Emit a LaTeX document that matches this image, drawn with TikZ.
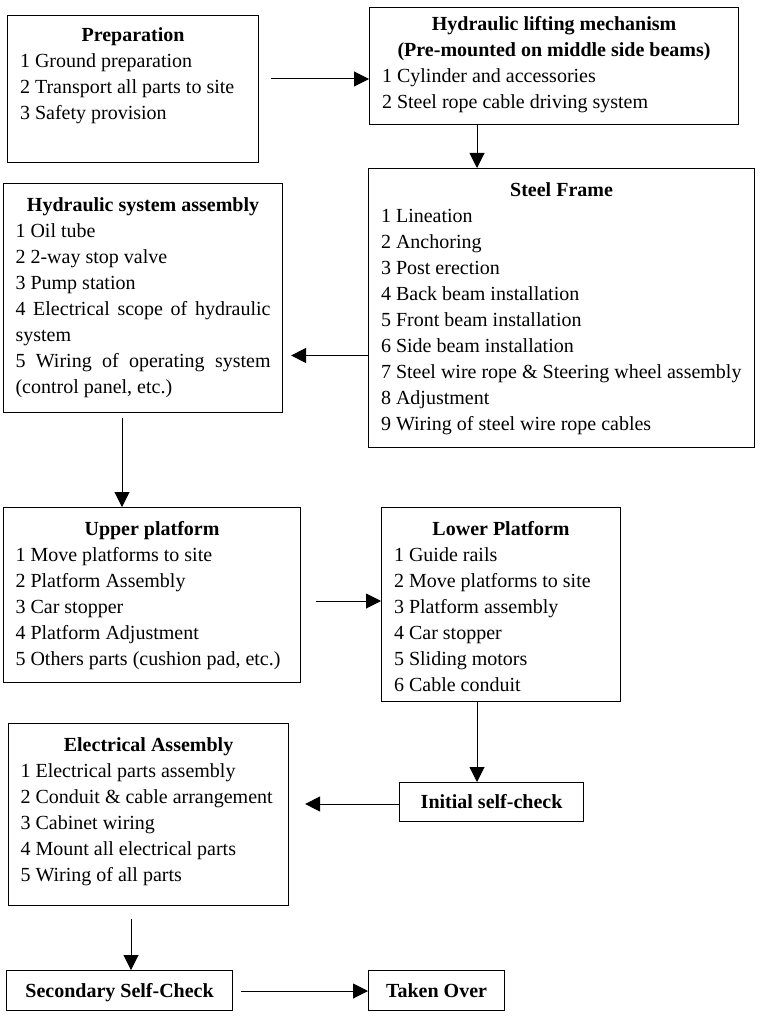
\documentclass[tikz,border=0pt]{standalone}
\usepackage{fontspec}
\setmainfont{Liberation Serif}
\usetikzlibrary{arrows.meta}
\tikzset{
  stepbox/.style={draw, line width=1.1pt, anchor=north west, inner ysep=0pt,
                  inner xsep=12.5pt, font=\fontsize{20}{26}\selectfont},
  checkbox/.style={draw, line width=1.1pt, anchor=north west, inner sep=0pt,
                   text height=13.5pt, text depth=0pt,
                   font=\fontsize{20}{26}\selectfont\bfseries},
  sig/.style={-{Triangle[length=15pt,width=15pt]}, line width=1pt},
}
\newcommand{\steptitle}[2]{\hbox to\linewidth{\hfil\bfseries\rule{0pt}{#1}#2\hfil}}
\newcommand{\stepitem}[1]{\hbox{#1}}
\newcommand{\stepjust}[1]{\hbox to\linewidth{#1}}

\begin{document}
\begin{tikzpicture}[x=1pt,y=-1pt]
  \useasboundingbox (0,0) rectangle (761,1016);
  % boxes, left to right and top to bottom
  \node[stepbox] (prep) at (7,15) {\parbox[c][147pt][t]{226pt}{%
    \steptitle{25.7pt}{Preparation}
    \stepitem{1 Ground preparation}
    \stepitem{2 Transport all parts to site}
    \stepitem{3 Safety provision}}};
  \node[stepbox] (lift) at (369,7) {\parbox[c][117pt][t]{344pt}{%
    \steptitle{23pt}{Hydraulic lifting mechanism}
    \steptitle{0pt}{(Pre-mounted on middle side beams)}
    \stepitem{1 Cylinder and accessories}
    \stepitem{2 Steel rope cable driving system}}};
  \node[stepbox] (frame) at (368,168) {\parbox[c][279pt][t]{361pt}{%
    \steptitle{27.5pt}{Steel Frame}
    \stepitem{1 Lineation}
    \stepitem{2 Anchoring}
    \stepitem{3 Post erection}
    \stepitem{4 Back beam installation}
    \stepitem{5 Front beam installation}
    \stepitem{6 Side beam installation}
    \stepitem{7 Steel wire rope \& Steering wheel assembly}
    \stepitem{8 Adjustment}
    \stepitem{9 Wiring of steel wire rope cables}}};
  \node[stepbox, inner xsep=12pt] (hydsys) at (3,183) {\parbox[c][229pt][t]{255pt}{%
    \steptitle{27.5pt}{Hydraulic system assembly}
    \stepitem{1 Oil tube}
    \stepitem{2 2-way stop valve}
    \stepitem{3 Pump station}
    \stepjust{4 Electrical scope of hydraulic}
    \stepitem{system}
    \stepjust{5 Wiring of operating system}
    \stepitem{(control panel, etc.)}}};
  \node[stepbox, inner xsep=12pt] (upper) at (3,507) {\parbox[c][175pt][t]{273pt}{%
    \steptitle{27.5pt}{Upper platform}
    \stepitem{1 Move platforms to site}
    \stepitem{2 Platform Assembly}
    \stepitem{3 Car stopper}
    \stepitem{4 Platform Adjustment}
    \stepitem{5 Others parts (cushion pad, etc.)}}};
  \node[stepbox] (lower) at (381,507) {\parbox[c][194pt][t]{214pt}{%
    \steptitle{27.5pt}{Lower Platform}
    \stepitem{1 Guide rails}
    \stepitem{2 Move platforms to site}
    \stepitem{3 Platform assembly}
    \stepitem{4 Car stopper}
    \stepitem{5 Sliding motors}
    \stepitem{6 Cable conduit}}};
  \node[stepbox, inner xsep=12pt] (elec) at (8,723) {\parbox[c][182pt][t]{256pt}{%
    \steptitle{27.5pt}{Electrical Assembly}
    \stepitem{1 Electrical parts assembly}
    \stepitem{2 Conduit \& cable arrangement}
    \stepitem{3 Cabinet wiring}
    \stepitem{4 Mount all electrical parts}
    \stepitem{5 Wiring of all parts}}};
  \node[checkbox, minimum width=184pt, minimum height=39pt] (init) at (399,782) {Initial self-check};
  \node[checkbox, minimum width=226pt, minimum height=40pt] (second) at (6,970) {Secondary Self-Check};
  \node[checkbox, minimum width=136pt, minimum height=40pt] (taken) at (368,970) {Taken Over};
  % arrow lanes
  \coordinate (ax1) at (477,0);
  \coordinate (ax2) at (122,0);
  \coordinate (ax3) at (131,0);
  \coordinate (ay1) at (0,79);
  \coordinate (ay2) at (0,355.5);
  \coordinate (ay3) at (0,601);
  \coordinate (ay4) at (0,804);
  \coordinate (ay5) at (0,991);
  \draw[sig, shorten <=12pt] (prep.east |- ay1) -- (lift.west |- ay1);
  \draw[sig] (lift.south -| ax1) -- (frame.north -| ax1);
  \draw[sig, shorten >=8pt] (frame.west |- ay2) -- (hydsys.east |- ay2);
  \draw[sig, shorten <=4.5pt] (hydsys.south -| ax2) -- (upper.north -| ax2);
  \draw[sig, shorten <=15pt] (upper.east |- ay3) -- (lower.west |- ay3);
  \draw[sig] (lower.south -| ax1) -- (init.north -| ax1);
  \draw[sig, shorten >=16pt] (init.west |- ay4) -- (elec.east |- ay4);
  \draw[sig, shorten <=13pt] (elec.south -| ax3) -- (second.north -| ax3);
  \draw[sig, shorten <=8pt] (second.east |- ay5) -- (taken.west |- ay5);
\end{tikzpicture}
\end{document}
